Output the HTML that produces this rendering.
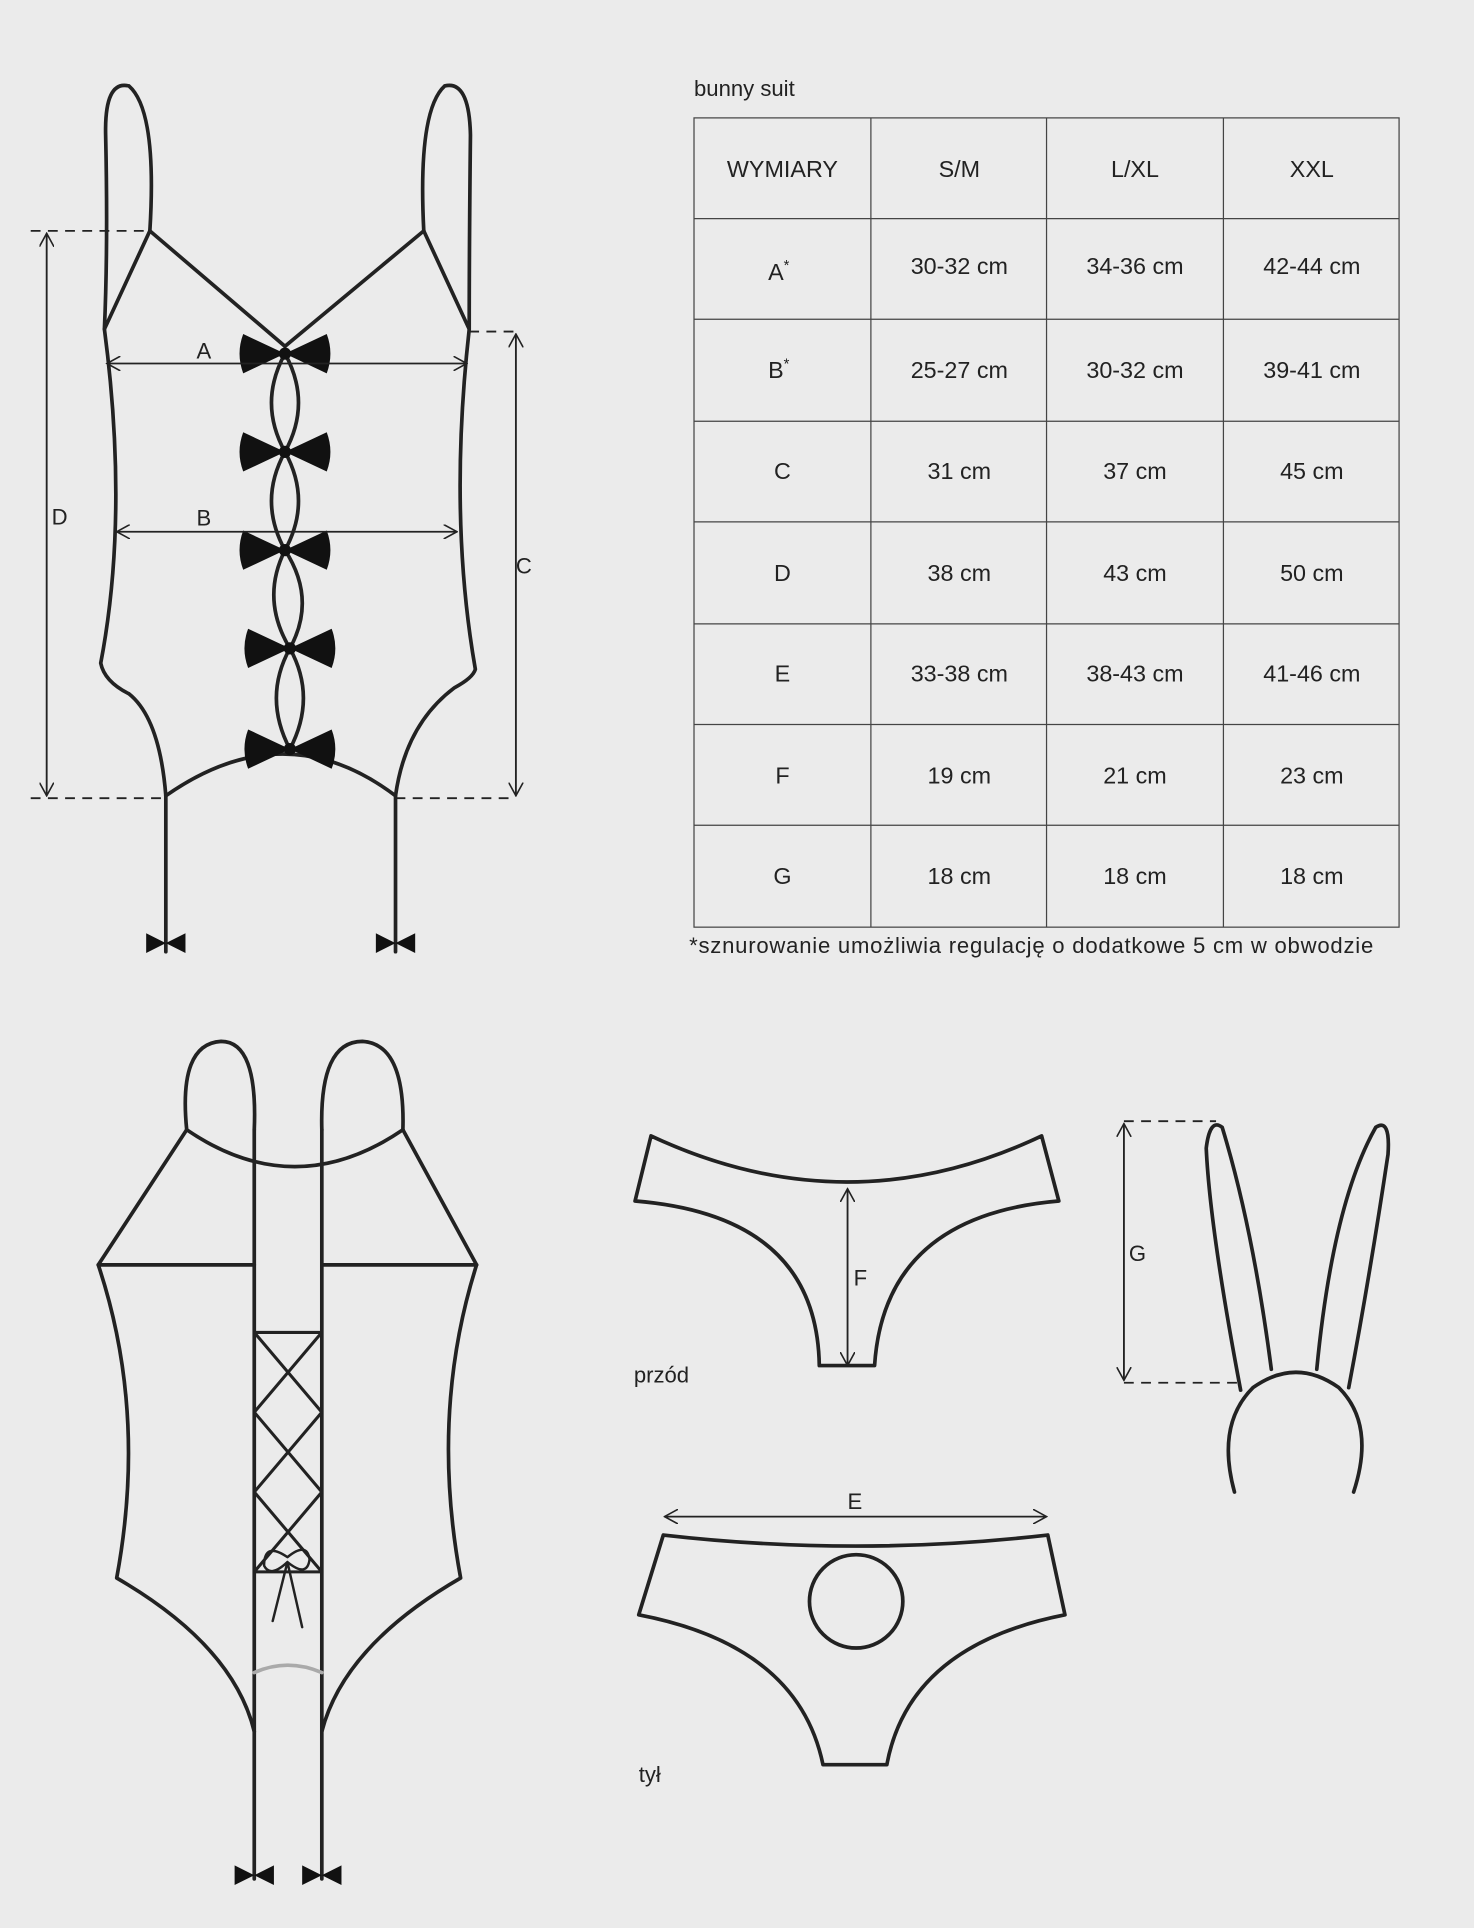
<!DOCTYPE html>
<html><head><meta charset="utf-8"><style>
html,body{margin:0;padding:0;background:#ebebeb}
svg{display:block}
text{font-family:"Liberation Sans",sans-serif;fill:#222}
</style></head><body>
<svg width="1474" height="1928" viewBox="0 0 1200 1570" preserveAspectRatio="none" xmlns="http://www.w3.org/2000/svg">
<defs>
<marker id="ar" viewBox="0 0 12 12" refX="11" refY="6" markerWidth="12" markerHeight="12" orient="auto-start-reverse" markerUnits="userSpaceOnUse"><path d="M0,0 L11,6 L0,12" fill="none" stroke="#222" stroke-width="1.3"/></marker>
<g id="bow"><path d="M0,0 L-34,-16 Q-40,0 -34,16 Z M0,0 L34,-16 Q40,0 34,16 Z" fill="#111"/><circle r="5" fill="#111"/></g>
<g id="sbow"><path d="M0,0 L-16,-8 L-16,8 Z M0,0 L16,-8 L16,8 Z" fill="#111"/></g>
</defs>
<rect width="1200" height="1570" fill="#ebebeb"/>
<g fill="none" stroke="#222" stroke-width="3" stroke-linejoin="round" stroke-linecap="round">
<path d="M122,188 Q128,90 105,70 Q85,65 86,110 Q88,200 85,268"/>
<path d="M345,188 Q340,90 362,70 Q382,65 383,110 Q382,200 382,268"/>
<path d="M122,188 L232,282 L345,188"/>
<path d="M122,188 L85,268 Q105,420 82,540 Q85,555 105,565 Q130,585 135,648 L135,775"/>
<path d="M345,188 L382,268 Q365,420 387,545 Q385,552 370,560 Q330,590 322,648 L322,775"/>
<path d="M135,648 Q232,580 322,648"/>
<path d="M232,288 Q210,328 232,368 Q254,328 232,288 M232,368 Q210,408 232,448 Q254,408 232,368 M232,448 Q212,488 236,528 Q258,488 232,448 M236,528 Q214,568 236,610 Q258,568 236,528"/>
<path d="M152,920 Q145,850 180,848 Q210,848 207,920"/>
<path d="M262,920 Q260,848 295,848 Q330,850 328,920"/>
<path d="M207,920 L207,1530 M262,920 L262,1530"/>
<path d="M152,920 Q240,980 328,920"/>
<path d="M152,920 L80,1030 L207,1030 M328,920 L388,1030 L262,1030"/>
<path d="M80,1030 Q120,1150 95,1285 Q190,1340 207,1410"/>
<path d="M388,1030 Q350,1150 375,1285 Q280,1340 262,1410"/>
<path d="M207,1085 L262,1085 M207,1280 L262,1280 M207,1085 L262,1150 L207,1215 L262,1280 M262,1085 L207,1150 L262,1215 L207,1280" stroke-width="2.5"/>
<path d="M234,1268 Q215,1255 215,1275 Q220,1285 234,1272 Q250,1285 252,1270 Q250,1255 234,1268 M234,1272 L222,1320 M234,1272 L246,1325" stroke-width="2"/>
<path d="M207,1362 Q234,1350 262,1362" stroke="#aaa" stroke-width="3"/>
<path d="M530,925 Q690,1000 848,925 L862,978 Q720,990 712,1112 L667,1112 Q665,990 517,978 Z"/>
<path d="M540,1250 Q697,1268 853,1250 L867,1315 Q740,1340 722,1437 L670,1437 Q650,1340 520,1315 Z"/>
<circle cx="697" cy="1304" r="38"/>
<path d="M1010,1132 Q985,1000 982,935 Q985,910 995,918 Q1020,1000 1035,1115"/>
<path d="M1072,1115 Q1085,980 1120,918 Q1132,910 1130,940 Q1115,1040 1098,1130"/>
<path d="M1005,1215 Q990,1160 1020,1130 Q1055,1105 1090,1130 Q1120,1160 1102,1215"/>
</g>
<use href="#bow" x="232" y="288"/><use href="#bow" x="232" y="368"/><use href="#bow" x="232" y="448"/><use href="#bow" x="236" y="528"/><use href="#bow" x="236" y="610"/>
<use href="#sbow" x="135" y="768"/><use href="#sbow" x="322" y="768"/>
<use href="#sbow" x="207" y="1527"/><use href="#sbow" x="262" y="1527"/>
<g fill="none" stroke="#222" stroke-width="1.5">
<path d="M25,188 L122,188 M25,650 L135,650 M382,270 L420,270 M322,650 L420,650 M915,913 L990,913 M915,1126 L1010,1126" stroke-dasharray="8,6"/>
<path d="M38,190 L38,648" marker-start="url(#ar)" marker-end="url(#ar)"/>
<path d="M420,272 L420,648" marker-start="url(#ar)" marker-end="url(#ar)"/>
<path d="M87,296 L380,296" marker-start="url(#ar)" marker-end="url(#ar)"/>
<path d="M95,433 L372,433" marker-start="url(#ar)" marker-end="url(#ar)"/>
<path d="M690,968 L690,1112" marker-start="url(#ar)" marker-end="url(#ar)"/>
<path d="M541,1235 L852,1235" marker-start="url(#ar)" marker-end="url(#ar)"/>
<path d="M915,915 L915,1124" marker-start="url(#ar)" marker-end="url(#ar)"/>
</g>
<g font-size="18">
<text x="42" y="427">D</text><text x="420" y="467">C</text><text x="160" y="292">A</text><text x="160" y="428">B</text>
<text x="695" y="1047">F</text><text x="690" y="1229">E</text><text x="919" y="1027">G</text>
<text x="516" y="1126">przód</text><text x="520" y="1451">tył</text>
<text x="565" y="78">bunny suit</text>
</g>
<g fill="none" stroke="#444" stroke-width="1">
<rect x="565" y="96" width="574" height="659"/>
<path d="M709,96V755M852,96V755M996,96V755M565,178H1139M565,260H1139M565,343H1139M565,425H1139M565,508H1139M565,590H1139M565,672H1139"/>
</g>
<g font-size="19" text-anchor="middle">
<text x="637" y="144">WYMIARY</text><text x="781" y="144">S/M</text><text x="924" y="144">L/XL</text><text x="1068" y="144">XXL</text>
<text x="634" y="228">A<tspan font-size="12" dy="-8">*</tspan></text><text x="781" y="223">30-32 cm</text><text x="924" y="223">34-36 cm</text><text x="1068" y="223">42-44 cm</text>
<text x="634" y="308">B<tspan font-size="12" dy="-8">*</tspan></text><text x="781" y="308">25-27 cm</text><text x="924" y="308">30-32 cm</text><text x="1068" y="308">39-41 cm</text>
<text x="637" y="390">C</text><text x="781" y="390">31 cm</text><text x="924" y="390">37 cm</text><text x="1068" y="390">45 cm</text>
<text x="637" y="473">D</text><text x="781" y="473">38 cm</text><text x="924" y="473">43 cm</text><text x="1068" y="473">50 cm</text>
<text x="637" y="555">E</text><text x="781" y="555">33-38 cm</text><text x="924" y="555">38-43 cm</text><text x="1068" y="555">41-46 cm</text>
<text x="637" y="638">F</text><text x="781" y="638">19 cm</text><text x="924" y="638">21 cm</text><text x="1068" y="638">23 cm</text>
<text x="637" y="720">G</text><text x="781" y="720">18 cm</text><text x="924" y="720">18 cm</text><text x="1068" y="720">18 cm</text>
</g>
<text x="561" y="776" font-size="18" textLength="557" lengthAdjust="spacing">*sznurowanie umożliwia regulację o dodatkowe 5 cm w obwodzie</text>
</svg>
</body></html>
